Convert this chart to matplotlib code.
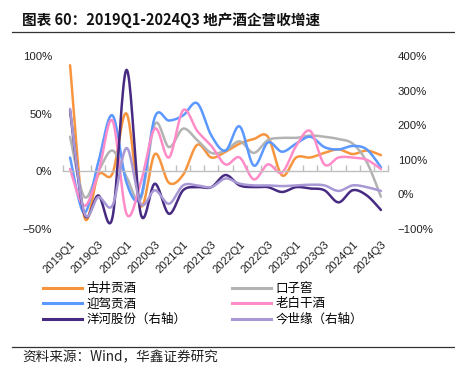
import numpy as np
import matplotlib
matplotlib.use("Agg")
import matplotlib.pyplot as plt
from matplotlib.lines import Line2D

quarters = [f"{y}Q{q}" for y in range(2019, 2025) for q in range(1, 5)][:23]

gujing   = [92, -39, -3, -2, 50, -30, 15, -10, -3, 23, 12, 17, 24, 28, 30, -3.5, 12, 12, 16, 19, 15, 18, 14]
kouzijiao = [30, -22, 0, 18, -5, -24, 41, 21, 37, 27, 16, 18, 26, 16, 27, 29, 29, 31, 30, 28, 24, 8, -22]
yingjia  = [12, -36, 8, 48.5, -10, -22, 47, 44, 48.5, 59, 31, 18, 39, 5, 25, 17, 24, 30, 21, 19, 22, 19, 3.5]
laobaigan = [2, -30, -1, 44, -37, -10, 37, 12, 53, 35, 22, 6, 12, -7, 6, -1, 22, 35, 6, 12, 12, 10, 2]
yanghe   = [242, -56, -3, -67, 360, -56, 31, -56, 12, 21, 21, 56, 26, 21, 21, 7, 21, 17, 12, -23, 12, -3, -45]
jinshiyuan = [247, -52, -8, -32, 134, -27, 12, -27, 26, 26, 21, 46, 31, 26, 26, 24, 26, 28, 26, 10, 26, 21, 10]

labels = ["古井贡酒", "口子窖", "迎驾贡酒", "老白干酒", "洋河股份（右轴）", "今世缘（右轴）"]
colors = ["#F7953F", "#B3B3B3", "#5B98FF", "#FF8CC8", "#472A82", "#A898D4"]

cjk = ["Noto Sans CJK SC", "DejaVu Sans"]
latin = ["Liberation Sans", "DejaVu Sans"]


def smooth(y, n=20):
    y = np.asarray(y, dtype=float)
    x = np.arange(len(y), dtype=float)
    xs, ys = [], []
    for i in range(len(y) - 1):
        p0 = (x[i - 1], y[i - 1]) if i > 0 else (x[i], y[i])
        p1 = (x[i], y[i])
        p2 = (x[i + 1], y[i + 1])
        p3 = (x[i + 2], y[i + 2]) if i + 2 < len(y) else (x[i + 1], y[i + 1])
        p0, p1, p2, p3 = map(np.array, (p0, p1, p2, p3))
        c1 = p1 + (p2 - p0) / 6.0
        c2 = p2 - (p3 - p1) / 6.0
        t = np.linspace(0, 1, n, endpoint=(i == len(y) - 2))[:, None]
        b = (1 - t) ** 3 * p1 + 3 * (1 - t) ** 2 * t * c1 + 3 * (1 - t) * t ** 2 * c2 + t ** 3 * p2
        xs.append(b[:, 0]); ys.append(b[:, 1])
    return np.concatenate(xs), np.concatenate(ys)


fig = plt.figure(figsize=(4.56, 3.75), dpi=100)
ax = fig.add_axes([63 / 456, 1 - 229 / 375, 325 / 456, 173 / 375])
ax2 = ax.twinx()

lw = 1.8
for data, c in zip([gujing, kouzijiao, yingjia, laobaigan], colors[:4]):
    sx, sy = smooth(data)
    ax.plot(sx, sy, color=c, lw=lw, solid_capstyle="round")
for data, c in zip([yanghe, jinshiyuan], colors[4:]):
    sx, sy = smooth(data)
    ax2.plot(sx, sy, color=c, lw=lw, solid_capstyle="round")

ax.set_xlim(-0.5, 22.5)
ax.set_ylim(-50, 100)
ax2.set_ylim(-100, 400)
fs = 8.2
ax.set_yticks([-50, 0, 50, 100])
ax.set_yticklabels(["−50%", "0%", "50%", "100%"], fontfamily=latin, fontsize=fs, color="#222222")
ax2.set_yticks([-100, 0, 100, 200, 300, 400])
ax2.set_yticklabels(["−100%", "0%", "100%", "200%", "300%", "400%"], fontfamily=latin, fontsize=fs, color="#222222")
ax.tick_params(axis="y", length=0, pad=8)
ax2.tick_params(axis="y", length=0, pad=7)

for a in (ax, ax2):
    for s in ("top", "left", "right"):
        a.spines[s].set_visible(False)
ax2.spines["bottom"].set_visible(False)
ax.spines["bottom"].set_position(("data", 0))
ax.spines["bottom"].set_color("#BFBFBF")
ax.spines["bottom"].set_linewidth(1.0)
ax.set_xticks(np.arange(0, 23, 2))
ax.set_xticklabels([quarters[i] for i in range(0, 23, 2)], rotation=45, ha="right",
                   rotation_mode="anchor", fontfamily=latin, fontsize=8.2, color="#222222")
ax.set_xticks(np.arange(-0.5, 23, 1), minor=True)
ax.tick_params(axis="x", which="major", length=0, pad=49)
ax.tick_params(axis="x", which="minor", length=4, direction="in", color="#BFBFBF", width=1.0)

fig.text(22 / 456, 1 - 20 / 375, "图表 60：2019Q1-2024Q3 地产酒企营收增速", fontfamily=cjk,
         fontsize=10.5, fontweight="bold", va="center", ha="left", color="#111111")
fig.add_artist(Line2D([12 / 456, 1], [1 - 31.5 / 375] * 2, color="#333333", lw=0.9))
fig.add_artist(Line2D([12 / 456, 1], [1 - 346.5 / 375] * 2, color="#333333", lw=0.9))
fig.text(22 / 456, 1 - 357 / 375, "资料来源：Wind，华鑫证券研究", fontfamily=cjk,
         fontsize=9.8, va="center", ha="left", color="#222222")

order = [0, 2, 4, 1, 3, 5]
hs = [Line2D([], [], color=colors[i], lw=2.2) for i in order]
ls = [labels[i] for i in order]
fig.legend(hs, ls, loc="upper left", bbox_to_anchor=(38 / 456, 1 - 277 / 375), ncol=2,
           frameon=False, prop={"family": cjk, "size": 9}, handlelength=3.1,
           handletextpad=0.4, columnspacing=3.6, labelspacing=0.2, borderaxespad=0)

fig.savefig("out.png", dpi=100)
